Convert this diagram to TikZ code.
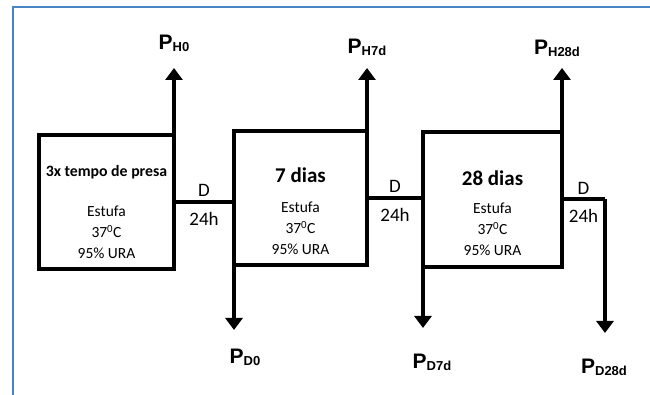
\documentclass[tikz,border=0pt]{standalone}
\usepackage{fontspec}
\setmainfont{Carlito}
\newfontfamily\arialfont{Liberation Sans}
\usetikzlibrary{arrows.meta}

\definecolor{frameblue}{RGB}{70,132,196}

% P label with bold subscript
\newcommand{\plab}[1]{{\arialfont\bfseries\fontsize{21}{21}\selectfont P\raisebox{-2pt}{\fontsize{13}{13}\selectfont #1}}}

\tikzset{
	stage/.style={draw, line width=4pt, inner sep=0pt, outer sep=0pt},
	stagetitle/.style={font=\bfseries\fontsize{21}{24}\selectfont},
	stagebody/.style={align=center, font=\fontsize{15.5}{21}\selectfont},
	flow/.style={line width=4pt, -{Triangle[width=17pt,length=12pt]}},
	link/.style={line width=4pt},
	dtext/.style={font=\fontsize{19}{19}\selectfont, inner sep=4pt},
	plabel/.style={inner sep=0pt}
}

\begin{document}
\begin{tikzpicture}[x=1pt,y=1pt]

		\useasboundingbox (0,0) rectangle (650,395);

		% frame
		\draw[frameblue, line width=2pt] (13,0) -- (13,388) -- (650,388);

		% stages
		\node[stage, minimum width=135pt, minimum height=134pt] (box1) at (106.5,193) {};
		\node[stage, minimum width=133pt, minimum height=134pt] (box2) at (300.5,197) {};
		\node[stage, minimum width=139pt, minimum height=135pt] (box3) at (492.5,195.5) {};

		% stage texts
		\node[stagetitle, font=\bfseries\fontsize{15.8}{18}\selectfont] (t1) at ([yshift=30pt]box1.center) {3x tempo de presa};
		\node[stagebody] (b1) at ([yshift=-30pt]box1.center) {Estufa\\37\textsuperscript{0}C\\95\% URA};
		\node[stagetitle] (t2) at ([yshift=23pt]box2.center) {7 dias};
		\node[stagebody] (b2) at ([yshift=-30pt]box2.center) {Estufa\\37\textsuperscript{0}C\\95\% URA};
		\node[stagetitle] (t3) at ([yshift=21.5pt]box3.center) {28 dias};
		\node[stagebody] (b3) at ([yshift=-29.5pt]box3.center) {Estufa\\37\textsuperscript{0}C\\95\% URA};

		% arrow ends
		\coordinate (tH0) at (box1.north east |- 0,327);
		\coordinate (tH7) at (box2.north east |- 0,327);
		\coordinate (tH28) at (box3.north east |- 0,327);
		\coordinate (tD0) at (box2.south west |- 0,65);
		\coordinate (tD7) at (box3.south west |- 0,67);
		\coordinate (corner) at (605,0 |- box3.east);
		\coordinate (tD28) at (605,62);

		% sampling arrows
		\draw[flow] (box1.north east) -- (tH0);
		\draw[flow] (box2.north east) -- (tH7);
		\draw[flow] (box3.north east) -- (tH28);
		\draw[flow] (box2.south west) -- (tD0);
		\draw[flow] (box3.south west) -- (tD7);

		% 24h links
		\draw[link] (box1.east) -- (box1.east -| box2.west)
			node[dtext, midway, above, yshift=-1pt] {D}
			node[dtext, midway, below, yshift=-4pt] {24h};
		\draw[link] (box2.east) -- (box2.east -| box3.west)
			node[dtext, midway, above, yshift=-1pt] {D}
			node[dtext, midway, below, yshift=-4pt] {24h};
		\draw[link] (box3.east) -- (corner)
			node[dtext, midway, above, yshift=-1pt] {D}
			node[dtext, midway, below, yshift=-4pt] {24h};
		\draw[flow] (corner) -- (tD28);

		% labels
		\node[plabel] (PH0) at (174,352) {\plab{H0}};
		\node[plabel] (PH7d) at (367,348) {\plab{H7d}};
		\node[plabel] (PH28d) at (557,347) {\plab{H28d}};
		\node[plabel] (PD0) at (245,38) {\plab{D0}};
		\node[plabel] (PD7d) at (432,33) {\plab{D7d}};
		\node[plabel] (PD28d) at (604,28) {\plab{D28d}};

\end{tikzpicture}
\end{document}
